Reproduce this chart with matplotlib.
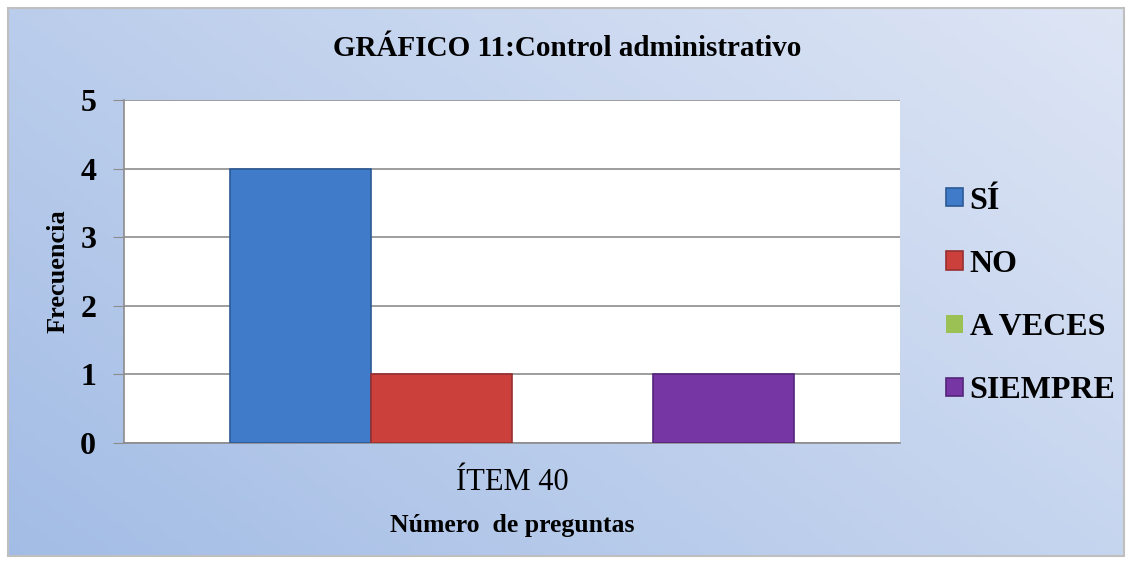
import numpy as np
import matplotlib
matplotlib.use("Agg")
import matplotlib.pyplot as plt
from matplotlib.patches import Rectangle

# datos del gráfico
categoria = ["ÍTEM 40"]
series = ["SÍ", "NO", "A VECES", "SIEMPRE"]
valores = [4, 1, 0, 1]
colores = ["#3f7bc9", "#cc403c", "#9bc155", "#7636a3"]
bordes = ["#2c5a95", "#963030", "#6f8f3a", "#54257a"]
yticks = [0, 1, 2, 3, 4, 5]

plt.rcParams['font.family'] = ['Liberation Serif', 'DejaVu Serif']

W, H = 1132, 564
fig = plt.figure(figsize=(W / 100, H / 100), dpi=100)

# fondo degradado
bg = fig.add_axes([8 / W, 8 / H, 1116 / W, 548 / H], zorder=0)
xx, yy = np.meshgrid(np.linspace(0, 1, 200), np.linspace(0, 1, 100))
t = (xx * 0.6 + yy * 0.4)
c0 = np.array([0.64, 0.74, 0.90])
c1 = np.array([0.87, 0.90, 0.96])
img = c0[None, None, :] * (1 - t[..., None]) + c1[None, None, :] * t[..., None]
bg.imshow(img, origin="lower", aspect="auto", extent=[0, 1, 0, 1])
bg.set_axis_off()
fig.patches.append(Rectangle((8 / W, 8 / H), 1116 / W, 548 / H, transform=fig.transFigure,
                             fill=False, edgecolor="#bfbfbf", linewidth=1.5, zorder=5))

ax = fig.add_axes([124 / W, 1 - 443 / H, 776 / W, 343 / H], zorder=1)
ax.set_facecolor("white")

n = len(series)
ancho = 0.182
x0 = np.arange(len(categoria))
for i, (s, v) in enumerate(zip(series, valores)):
    pos = x0 + (i - (n - 1) / 2) * ancho
    ax.bar(pos, [v], width=ancho, color=colores[i], edgecolor=bordes[i],
           linewidth=1.2 if v > 0 else 0, label=s, zorder=3)

ax.set_xlim(-0.5, 0.5)
ax.set_ylim(0, 5)
ax.set_yticks(yticks)
ax.set_yticklabels([str(v) for v in yticks], fontsize=23, fontweight="bold")
ax.set_xticks(x0)
ax.set_xticklabels(categoria, fontsize=22)
ax.tick_params(axis="x", length=0, pad=18)
ax.tick_params(axis="y", length=8, color="#8c8c8c", pad=12)
ax.grid(axis="y", color="#8c8c8c", linewidth=1.2, zorder=0)
for sp in ["top", "right"]:
    ax.spines[sp].set_visible(False)
for sp in ["left", "bottom"]:
    ax.spines[sp].set_color("#8c8c8c")
    ax.spines[sp].set_linewidth(1.2)

ax.set_ylabel("Frecuencia", fontsize=19, fontweight="bold", labelpad=8)
ax.set_xlabel("Número  de preguntas", fontsize=18.5, fontweight="bold", labelpad=12)

fig.text(567 / W, 1 - 49 / H, "GRÁFICO 11:Control administrativo", ha="center", va="center",
         fontsize=21, fontweight="bold")

handles, labels = ax.get_legend_handles_labels()
fig.legend(handles, labels, loc="center left", bbox_to_anchor=(917 / W, 1 - 296 / H),
           frameon=False, prop={"size": 23, "weight": "bold"}, labelspacing=1.07,
           handlelength=0.55, handleheight=0.5, handletextpad=0.2)

fig.savefig("out.png", dpi=100)
